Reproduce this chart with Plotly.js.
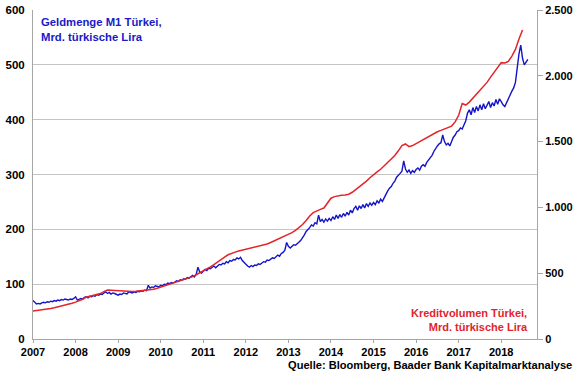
<!DOCTYPE html>
<html>
<head>
<meta charset="utf-8">
<script src="https://cdn.plot.ly/plotly-3.0.1.min.js"></script>
<style>html,body{margin:0;padding:0;background:#fff;}#chart{width:580px;height:375px;}</style>
</head>
<body>
<div id="chart"></div>
<script>
// Geldmenge M1 Türkei (Mrd. TRY), semi-monthly readings from Jan 2007
var m1Start = 2007;
var m1Values = [
  70, 66, 64, 65, 64, 66, 67, 66, 68, 67, 69, 68, 70, 69, 71, 70, 72, 71, 73, 72, 71, 73, 72, 74,
  77, 71, 72, 74, 73, 76, 77, 75, 78, 77, 79, 78, 81, 80, 82, 81, 84, 86, 83, 85, 82, 84, 83, 81,
  80, 82, 81, 84, 83, 82, 86, 85, 84, 86, 85, 87, 86, 88, 87, 89, 88, 98, 93, 95, 94, 97, 96, 95,
  98, 97, 100, 99, 102, 101, 103, 102, 104, 106, 105, 108, 107, 110, 109, 112, 111, 114, 116, 113, 118, 131, 122, 120,
  124, 127, 125, 129, 128, 131, 133, 130, 134, 136, 135, 138, 137, 141, 139, 143, 142, 145, 144, 148, 146, 149, 143, 139,
  136, 133, 131, 134, 132, 135, 134, 137, 136, 139, 141, 140, 144, 143, 146, 148, 147, 150, 153, 151, 156, 158, 162, 176,
  169, 166, 170, 172, 171, 175, 177, 180, 184, 190, 196, 199, 203, 208, 206, 212, 210, 226, 214, 218, 213, 219, 215, 220,
  216, 223, 218, 226, 220, 227, 222, 229, 224, 231, 226, 235, 230, 238, 242, 235, 243, 238, 245, 239, 247, 242, 248, 244,
  249, 245, 252, 248, 255, 251, 258, 263, 270, 275, 278, 284, 288, 295, 298, 302, 306, 325, 310, 304, 308, 302, 307, 304,
  309, 312, 308, 315, 318, 315, 322, 326, 330, 335, 342, 348, 352, 356, 358, 372, 360, 354, 357, 352, 362, 368, 372, 378,
  380, 385, 383, 390, 398, 412, 418, 409, 422, 413, 424, 416, 427, 418, 429, 420, 428, 433, 422, 431, 425, 437, 428, 438,
  433, 427, 424, 432, 440, 445, 452, 458, 468, 495, 520, 536, 512, 500, 506, 510
];
// Kreditvolumen Türkei (Mrd. TRY), monthly readings from Jan 2007
var creditStart = 2007;
var creditValues = [
  213, 216, 220, 224, 228, 232, 238, 244, 252, 258, 265, 272,
  280, 290, 302, 318, 325, 330, 334, 345, 360, 372, 370, 368,
  366, 364, 362, 360, 361, 363, 365, 367, 369, 372, 378, 386,
  395, 402, 410, 418, 426, 434, 443, 452, 462, 474, 488, 502,
  515, 530, 548, 565, 582, 600, 622, 640, 652, 660, 668, 675,
  682, 688, 694, 700, 707, 713, 722, 733, 745, 757, 768, 782,
  795, 808, 825, 845, 870, 900, 935, 960, 975, 985, 995, 1030,
  1070, 1082, 1088, 1092, 1094, 1100, 1115, 1135, 1155, 1180, 1200, 1225,
  1250, 1270, 1290, 1315, 1345, 1365, 1395, 1430, 1470, 1482, 1462, 1470,
  1485, 1500, 1515, 1535, 1550, 1565, 1575, 1585, 1595, 1605, 1618, 1650,
  1700, 1790, 1778, 1800, 1830, 1860, 1890, 1925, 1950, 1990, 2030, 2070,
  2100, 2098, 2110, 2150, 2200, 2280, 2348
];
var yearTicks = [2007, 2008, 2009, 2010, 2011, 2012, 2013, 2014, 2015, 2016, 2017, 2018];
var leftTicks = [0, 100, 200, 300, 400, 500, 600];
var rightTicks = [0, 500, 1000, 1500, 2000, 2500];

var m1X = m1Values.map(function (v, i) { return m1Start + i / 24; });
var creditX = creditValues.map(function (v, i) { return creditStart + i / 12; });

var FONT = 'Liberation Sans, Arial, sans-serif';
var traces = [
  {x: creditX, y: creditValues, yaxis: 'y2', type: 'scatter', mode: 'lines',
   line: {color: '#e3242b', width: 1.5}, hoverinfo: 'skip', name: 'Kreditvolumen'},
  {x: m1X, y: m1Values, type: 'scatter', mode: 'lines',
   line: {color: '#1414c8', width: 1.4}, hoverinfo: 'skip', name: 'M1'}
];

var layout = {
  width: 580, height: 375,
  margin: {l: 33, r: 43, t: 10, b: 36, pad: 0},
  paper_bgcolor: '#ffffff', plot_bgcolor: '#ffffff',
  showlegend: false,
  separators: ',.',
  font: {family: FONT, size: 11, color: '#000'},
  xaxis: {
    range: [2007, 2018.84], tickvals: yearTicks, ticktext: yearTicks.map(String),
    ticks: 'outside', ticklen: 3, tickcolor: '#a6a6a6',
    showline: true, linecolor: '#a6a6a6', linewidth: 1,
    showgrid: false, zeroline: false,
    tickfont: {family: FONT, size: 11, color: '#000', weight: 'bold'}
  },
  yaxis: {
    range: [0, 600], tickvals: leftTicks,
    ticks: 'outside', ticklen: 5, tickcolor: 'rgba(0,0,0,0)',
    showline: true, linecolor: '#a6a6a6', linewidth: 1,
    showgrid: true, gridcolor: '#c4c4c4', gridwidth: 1, zeroline: false,
    tickfont: {family: FONT, size: 11.5, color: '#000', weight: 'bold'}
  },
  yaxis2: {
    range: [0, 2500], tickvals: rightTicks, tickformat: ',d',
    overlaying: 'y', side: 'right',
    ticks: 'outside', ticklen: 5, tickcolor: '#a6a6a6',
    showline: true, linecolor: '#a6a6a6', linewidth: 1,
    showgrid: false, zeroline: false,
    tickfont: {family: FONT, size: 11, color: '#000', weight: 'bold'}
  },
  annotations: [
    {xref: 'paper', yref: 'paper', x: 0.0119, y: 0.988, xanchor: 'left', yanchor: 'top',
     align: 'left', showarrow: false,
     text: '<b>Geldmenge M1 Türkei,<br>Mrd. türkische Lira</b>',
     font: {family: FONT, size: 11.3, color: '#1a1ac8'}},
    {xref: 'paper', yref: 'paper', x: 0.986, y: 0.012, xanchor: 'right', yanchor: 'bottom',
     align: 'right', showarrow: false,
     text: '<b>Kreditvolumen Türkei,<br>Mrd. türkische Lira</b>',
     font: {family: FONT, size: 11, color: '#e3242b'}},
    {xref: 'paper', yref: 'paper', x: 1.073, y: -0.08, xanchor: 'right', yanchor: 'middle',
     align: 'right', showarrow: false,
     text: '<b>Quelle: Bloomberg, Baader Bank Kapitalmarktanalyse</b>',
     font: {family: FONT, size: 11.1, color: '#000'}}
  ]
};

Plotly.newPlot('chart', traces, layout, {staticPlot: true, displayModeBar: false});
</script>
</body>
</html>
